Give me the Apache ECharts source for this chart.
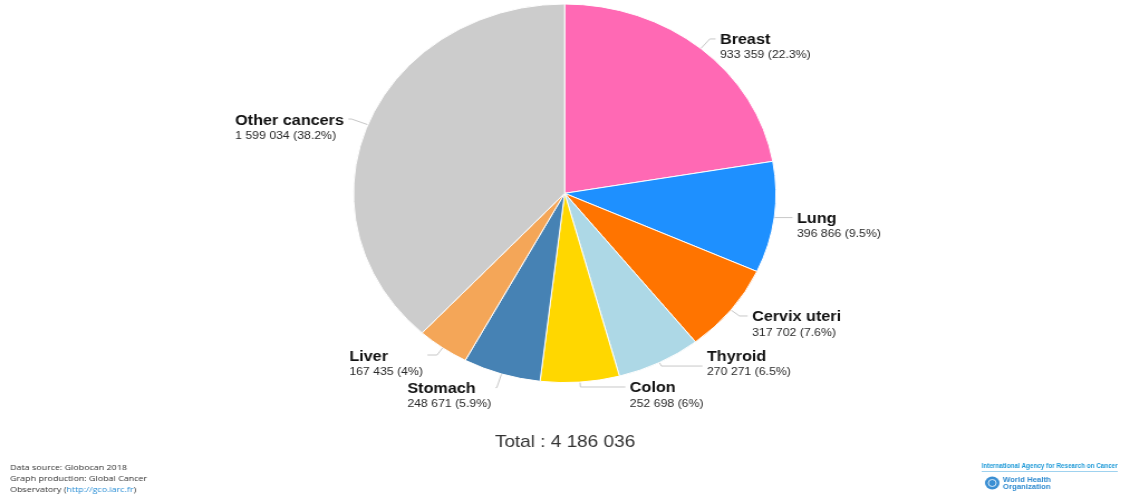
<!DOCTYPE html>
<html><head><meta charset="utf-8">
<script src="https://cdn.jsdelivr.net/npm/echarts@6/dist/echarts.min.js"></script>
<style>
html,body{margin:0;padding:0;background:#fff;overflow:hidden;width:1130px;height:498px}
#chart{width:1013px;height:498px;transform:scaleX(1.1155);transform-origin:0 0;}
</style></head><body><div id="chart"></div>
<script>
// ---- data ----
const categories = ['Breast', 'Lung', 'Cervix uteri', 'Thyroid', 'Colon', 'Stomach', 'Liver', 'Other cancers'];
const values = [933359, 396866, 317702, 270271, 252698, 248671, 167435, 1599034];
const colors = ['#ff69b4', '#1e90ff', '#ff7400', '#add8e6', '#ffd700', '#4682b4', '#f4a658', '#cccccc'];
const sourceLines = ['Data source: Globocan 2018', 'Graph production: Global Cancer', 'Observatory ('];
const sourceLink = 'http://gco.iarc.fr';
const logoTitle = 'International Agency for Research on Cancer';
const logoLines = ['World Health', 'Organization'];

// ---- label connector styling: [radial length, horizontal length, top pad, bottom pad] ----
const connectors = [[12.6, 5.1, 18, 0], [1, 15.5, 18, 0], [9.7, 7.3, 18, 0], [4, 36.8, 0, 4],
                    [4.9, 40.3, 18, 0], [14.3, 1, 18, 0], [8.8, 8.6, 18, 0], [15.7, 2.8, 18, 0]];

function fmt(n) { return String(n).replace(/\B(?=(\d{3})+(?!\d))/g, ' '); }
const total = values.reduce((a, b) => a + b, 0);

const data = categories.map((name, i) => {
  const c = connectors[i];
  return {
    name: name,
    value: values[i],
    itemStyle: { color: colors[i] },
    label: { padding: [c[2], 0, c[3], 0] },
    labelLine: { length: c[0], length2: c[1] }
  };
});

function measure(text, font) {
  const cv = document.createElement('canvas').getContext('2d');
  cv.font = font;
  return cv.measureText(text).width;
}
const logoFont = 'bold 7px Arial';
const logoScale = 122 / measure(logoTitle, logoFont);

const chart = echarts.init(document.getElementById('chart'), null, { renderer: 'canvas' });
chart.setOption({
  animation: false,
  backgroundColor: '#fff',
  series: [{
    type: 'pie',
    center: [506.2, 193.3],
    radius: 189.3,
    startAngle: 90,
    clockwise: true,
    avoidLabelOverlap: false,
    emphasis: { disabled: true },
    itemStyle: { borderColor: '#fff', borderWidth: 1 },
    label: {
      show: true,
      position: 'outside',
      distanceToLabelLine: 4,
      formatter: function (p) {
        const pct = Math.round(p.value / total * 1000) / 10;
        return '{n|' + p.name + '}\n{v|' + fmt(p.value) + ' (' + pct + '%)}';
      },
      rich: {
        n: { fontFamily: 'Arial', fontSize: 14.5, fontWeight: 'bold', color: '#111', lineHeight: 15, align: 'left' },
        v: { fontFamily: 'Arial', fontSize: 11, color: '#2a2a2a', lineHeight: 15, align: 'left' }
      }
    },
    labelLine: { show: true, lineStyle: { color: '#c8c8c8', width: 1 } },
    data: data
  }],
  graphic: [
    { type: 'text', x: 506.5, y: 442, style: { text: 'Total : ' + fmt(total), font: '17px Arial', fill: '#333', align: 'center', verticalAlign: 'middle' } },
    { type: 'text', x: 9, y: 468, style: { text: sourceLines[0], font: '8px "Open Sans"', fill: '#333', verticalAlign: 'middle' } },
    { type: 'text', x: 9, y: 479, style: { text: sourceLines[1], font: '8px "Open Sans"', fill: '#333', verticalAlign: 'middle' } },
    { type: 'text', x: 9, y: 490, style: {
        text: '{a|' + sourceLines[2] + '}{b|' + sourceLink + '}{a|)}', verticalAlign: 'middle',
        rich: { a: { fontFamily: 'Open Sans', fontSize: 8, fill: '#333' }, b: { fontFamily: 'Open Sans', fontSize: 8, fill: '#2b8fd6' } } } },
    { type: 'group', x: 880, y: 466, scaleX: logoScale, children: [
        { type: 'text', x: 0, y: 0, style: { text: logoTitle, font: logoFont, fill: '#1e9ad8', verticalAlign: 'middle' } }
    ] },
    { type: 'line', shape: { x1: 880, y1: 471.5, x2: 1002, y2: 471.5 }, style: { stroke: '#9fd2ef', lineWidth: 1 } },
    { type: 'circle', shape: { cx: 889.5, cy: 483, r: 6.5 }, style: { fill: '#3b8fd3' } },
    { type: 'circle', shape: { cx: 889.5, cy: 483, r: 3.5 }, style: { fill: 'none', stroke: '#fff', lineWidth: 0.8 } },
    { type: 'text', x: 899, y: 480, style: { text: logoLines[0], font: 'bold 7px Arial', fill: '#2f8bd0', verticalAlign: 'middle' } },
    { type: 'text', x: 899, y: 487.5, style: { text: logoLines[1], font: 'bold 7px Arial', fill: '#2f8bd0', verticalAlign: 'middle' } }
  ]
});
</script></body></html>
